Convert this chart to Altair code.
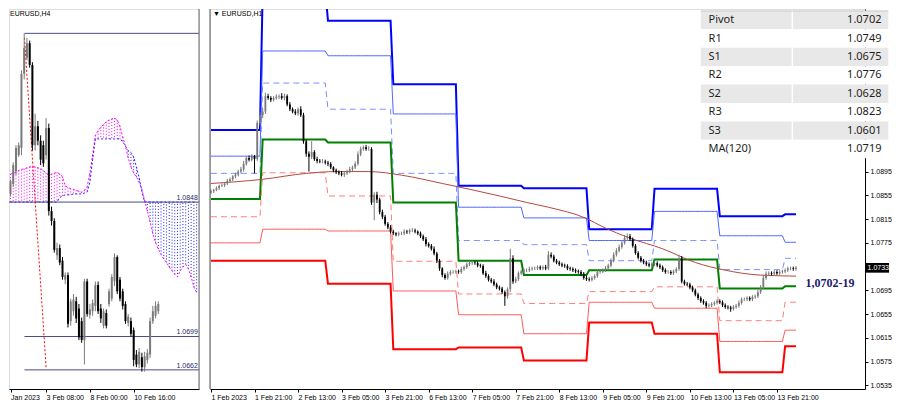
import json
import altair as alt
import pandas as pd

# ================= DATA =================
# ---- right panel: EURUSD H1 (prices in pips, 1 pip = 0.0001) ----
H1_TICK_BARS = [0, 16, 32, 48, 64, 80, 96, 112, 128, 144, 160, 176, 192, 208]
H1_TICK_LABELS = ["1 Feb 2023", "1 Feb 21:00", "2 Feb 13:00", "3 Feb 05:00", "3 Feb 21:00",
                  "6 Feb 13:00", "7 Feb 05:00", "7 Feb 21:00", "8 Feb 13:00", "9 Feb 05:00",
                  "9 Feb 21:00", "10 Feb 13:00", "13 Feb 05:00", "13 Feb 21:00"]
H1_OPEN0 = 10860
H1_CLOSE = [
    10862, 10864, 10867, 10871, 10872, 10875, 10879, 10882, 10887, 10890,
    10895, 10899, 10908, 10918, 10915, 10921, 10916, 10977, 10990, 10996,
    11022, 11019, 11016, 11019, 11021, 11022, 11019, 11022, 11008, 11000,
    10996, 10993, 11000, 10990, 10946, 10925, 10920, 10928, 10916, 10913,
    10912, 10912, 10910, 10908, 10902, 10897, 10894, 10892, 10890, 10892,
    10895, 10899, 10902, 10908, 10924, 10933, 10936, 10933, 10933, 10843,
    10856, 10848, 10827, 10819, 10807, 10801, 10794, 10791, 10789, 10791,
    10791, 10794, 10793, 10796, 10796, 10794, 10791, 10786, 10781, 10773,
    10770, 10765, 10757, 10745, 10732, 10721, 10716, 10723, 10726, 10726,
    10727, 10726, 10731, 10734, 10739, 10741, 10742, 10741, 10737, 10736,
    10724, 10719, 10713, 10710, 10705, 10700, 10698, 10692, 10685, 10697,
    10749, 10710, 10714, 10724, 10727, 10729, 10729, 10731, 10732, 10732,
    10734, 10732, 10734, 10732, 10755, 10752, 10745, 10742, 10739, 10737,
    10736, 10732, 10731, 10729, 10727, 10726, 10723, 10716, 10714, 10713,
    10716, 10719, 10726, 10727, 10729, 10732, 10737, 10745, 10755, 10762,
    10768, 10775, 10783, 10786, 10781, 10770, 10758, 10750, 10745, 10742,
    10739, 10737, 10739, 10741, 10737, 10734, 10729, 10726, 10726, 10724,
    10727, 10731, 10749, 10710, 10706, 10705, 10700, 10695, 10688, 10682,
    10677, 10674, 10669, 10670, 10672, 10674, 10677, 10675, 10670, 10667,
    10666, 10664, 10667, 10669, 10674, 10680, 10680, 10682, 10680, 10684,
    10685, 10692, 10700, 10716, 10723, 10724, 10723, 10726, 10724, 10726,
    10727, 10729, 10732, 10732, 10731, 10733]
H1_UPPER_WICK = [
    3, 2, 3, 2, 3, 2, 4, 3, 2, 3,  3, 4, 5, 3, 4, 3, 2, 4, 5, 6,
    6, 4, 3, 3, 4, 3, 5, 4, 3, 4,  3, 4, 3, 5, 4, 3, 4, 18, 3, 4,
    3, 4, 3, 3, 3, 2, 3, 3, 4, 3,  3, 4, 3, 4, 5, 4, 3, 4, 5, 3,
    4, 5, 3, 4, 3, 3, 4, 3, 2, 3,  3, 4, 3, 3, 4, 3, 2, 3, 3, 4,
    3, 3, 4, 3, 3, 2, 3, 4, 3, 3,  3, 3, 4, 3, 3, 4, 3, 3, 3, 3,
    3, 4, 3, 3, 4, 3, 3, 3, 3, 3,  16, 5, 4, 3, 3, 3, 3, 4, 3, 3,
    3, 3, 3, 4, 6, 4, 3, 3, 3, 3,  3, 3, 3, 3, 3, 3, 3, 3, 4, 3,
    3, 3, 3, 3, 3, 4, 3, 4, 4, 4,  4, 4, 5, 5, 4, 3, 3, 3, 3, 3,
    3, 3, 3, 3, 3, 3, 3, 3, 3, 3,  3, 3, 6, 4, 3, 3, 3, 3, 3, 3,
    3, 3, 3, 3, 3, 3, 3, 3, 3, 3,  3, 3, 3, 3, 4, 3, 3, 3, 3, 3,
    3, 4, 4, 5, 4, 3, 3, 3, 3, 3,  3, 3, 3, 3, 3, 3]
H1_LOWER_WICK = [
    3, 3, 2, 3, 2, 3, 3, 2, 3, 3,  3, 3, 4, 3, 3, 3, 24, 3, 4, 5,
    4, 3, 4, 3, 3, 4, 3, 4, 3, 3,  3, 3, 4, 3, 4, 5, 25, 4, 3, 4,
    3, 3, 3, 4, 3, 3, 3, 3, 3, 4,  3, 3, 3, 3, 3, 3, 3, 3, 3, 4,
    30, 6, 4, 4, 3, 3, 3, 3, 3, 3,  3, 3, 3, 3, 3, 3, 3, 3, 3, 4,
    3, 3, 3, 4, 4, 4, 3, 3, 3, 3,  3, 3, 3, 3, 3, 3, 3, 3, 3, 3,
    3, 3, 3, 3, 3, 3, 3, 3, 16, 4,  5, 4, 3, 3, 3, 3, 3, 3, 3, 3,
    3, 3, 3, 3, 3, 3, 3, 3, 3, 3,  3, 3, 3, 3, 3, 3, 4, 3, 3, 3,
    3, 3, 3, 3, 3, 3, 3, 3, 3, 3,  3, 3, 3, 3, 3, 3, 3, 3, 3, 3,
    3, 3, 3, 3, 3, 3, 3, 3, 3, 3,  3, 3, 3, 3, 3, 3, 3, 3, 3, 3,
    3, 3, 4, 3, 3, 3, 3, 3, 3, 3,  3, 5, 3, 3, 3, 3, 3, 3, 3, 3,
    3, 3, 3, 3, 3, 3, 3, 3, 3, 3,  3, 3, 3, 3, 3, 3]

# daily pivot levels (one value per trading day, pips)
DAY_START_BAR = [0, 19, 43, 67, 91, 115, 139, 163, 187, 211]
LAST_BAR = 215
PIV_R3 = [10965, 11200, 11149, 11042, 10871, 10867, 10798, 10866, 10820, 10823]
PIV_R2 = [10921, 11098, 11090, 10992, 10835, 10817, 10779, 10828, 10787, 10776]
PIV_R1 = [10892, 11044, 11000, 10892, 10779, 10772, 10745, 10779, 10730, 10749]
PIV_PP = [10849, 10949, 10944, 10843, 10745, 10721, 10729, 10747, 10698, 10702]
PIV_S1 = [10819, 10893, 10854, 10744, 10689, 10673, 10693, 10701, 10644, 10675]
PIV_S2 = [10775, 10798, 10795, 10694, 10654, 10622, 10675, 10665, 10609, 10628]
PIV_S3 = [10745, 10745, 10706, 10596, 10599, 10577, 10641, 10622, 10557, 10601]

MA_BAR = [0, 19, 35, 46, 58, 70, 85, 106, 116, 124, 138, 144, 154, 166, 178, 189, 201, 215]
MA_VAL = [10875, 10882, 10892, 10895, 10895, 10889, 10875, 10854, 10843, 10835, 10816,
          10802, 10783, 10765, 10742, 10729, 10721, 10719]

H1_Y_TICKS = [1.0895, 1.0855, 1.0815, 1.0775, 1.0695, 1.0655, 1.0615, 1.0575, 1.0535]
LAST_PRICE = 1.0733
ANNOT_TEXT = "1,0702-19"
ANNOT_BAR = 227.5
ANNOT_PRICE = 1.07077

TABLE_NAMES = ["Pivot", "R1", "S1", "R2", "S2", "R3", "S3", "MA(120)"]
TABLE_VALUES = ["1.0702", "1.0749", "1.0675", "1.0776", "1.0628", "1.0823", "1.0601", "1.0719"]

# ---- left panel: EURUSD H4 ----
H4_TICK_BARS = [3, 16, 32, 48]
H4_TICK_LABELS = ["Jan 2023", "3 Feb 08:00", "8 Feb 00:00", "10 Feb 16:00"]
H4_FIRST_BAR = 2
H4_OPEN = [10851, 10857, 10868, 10882, 10900, 10908, 10990, 11008, 11024, 11000, 10911, 10932,
           10916, 10911, 10900, 10930, 10838, 10827, 10789, 10797, 10783, 10762, 10767, 10716,
           10727, 10738, 10730, 10716, 10695, 10760, 10723, 10727, 10733, 10756, 10730, 10711,
           10725, 10735, 10741, 10760, 10787, 10762, 10749, 10735, 10714, 10716, 10706, 10679,
           10668, 10676, 10665, 10673, 10679, 10716, 10722, 10727]
H4_CLOSE = [10862, 10871, 10889, 10908, 10911, 10990, 11019, 11024, 11000, 10911, 10932, 10916,
            10895, 10891, 10930, 10838, 10827, 10795, 10797, 10781, 10765, 10767, 10713, 10738,
            10740, 10719, 10698, 10695, 10760, 10724, 10729, 10736, 10756, 10727, 10719, 10727,
            10711, 10749, 10765, 10787, 10749, 10741, 10733, 10716, 10721, 10702, 10673, 10668,
            10682, 10665, 10677, 10681, 10716, 10727, 10733, 10735]
H4_HIGH = [10864, 10873, 10892, 10911, 10914, 10994, 11035, 11030, 11027, 11003, 10946, 10938,
           10922, 10916, 10941, 10935, 10843, 10830, 10803, 10801, 10787, 10770, 10770, 10741,
           10746, 10743, 10735, 10720, 10763, 10763, 10735, 10740, 10760, 10760, 10735, 10730,
           10729, 10752, 10768, 10791, 10789, 10765, 10752, 10738, 10724, 10720, 10709, 10684,
           10686, 10681, 10682, 10685, 10720, 10733, 10738, 10738]
H4_LOW = [10849, 10854, 10865, 10878, 10898, 10900, 10984, 11005, 10997, 10905, 10905, 10911,
          10889, 10887, 10895, 10833, 10822, 10792, 10784, 10778, 10762, 10757, 10709, 10711,
          10722, 10714, 10695, 10692, 10668, 10721, 10719, 10722, 10727, 10724, 10714, 10708,
          10708, 10732, 10738, 10755, 10746, 10738, 10729, 10713, 10710, 10699, 10666, 10665,
          10664, 10660, 10660, 10669, 10675, 10713, 10719, 10724]

CLOUD_FIRST_BAR = 2
SPAN_A = [10878, 10879, 10880, 10881, 10883, 10884, 10885, 10886, 10887, 10887,
          10887, 10886, 10885, 10883, 10880, 10878, 10879, 10880, 10881, 10879,
          10876, 10866, 10864, 10863, 10862, 10861, 10860, 10859, 10861, 10865,
          10880, 10900, 10922, 10927, 10931, 10934, 10937, 10939, 10940, 10941,
          10939, 10932, 10920, 10910, 10897, 10887, 10880, 10876, 10870, 10862,
          10850, 10838, 10826, 10813, 10803, 10796, 10790, 10785, 10781, 10776,
          10772, 10768, 10765, 10772, 10776, 10779, 10774, 10765, 10754, 10748,
          10742]
SPAN_B = [10848, 10848, 10848, 10848, 10848, 10848, 10848, 10848, 10848, 10848,
          10848, 10848, 10848, 10848, 10848, 10848, 10848, 10848, 10848, 10853,
          10855, 10856, 10856, 10856, 10857, 10857, 10857, 10857, 10858, 10859,
          10870, 10895, 10918, 10918, 10918, 10918, 10918, 10918, 10918, 10918,
          10918, 10918, 10915, 10910, 10905, 10903, 10898, 10887, 10875, 10860,
          10848, 10848, 10848, 10848, 10848, 10848, 10848, 10848, 10848, 10848,
          10848, 10848, 10848, 10848, 10848, 10848, 10848, 10848, 10848, 10848,
          10848]

H4_LEVELS = [1.1035, 1.0848, 1.0699, 1.0662]
H4_LEVEL_START = [8.1, 2.45, 8.1, 8.1]
H4_LEVEL_LABELS = ["", "1.0848", "1.0699", "1.0662"]
H4_DIAG_BAR = [8.1, 16.0]
H4_DIAG_PRICE = [1.1030, 1.0665]

# ================= LAYOUT / STYLE =================
W_L, W_R, H = 190, 655, 380
XR_DOM = [-0.36, 240.36]
YR_DOM = [1.05290, 1.11687]
XL_DOM = [2.45, 71.87]
YL_DOM = [1.06408, 1.10620]
FONT = "Liberation Sans"
BULL, BEAR = "#7a7a7a", "#000000"


def ref_y(yref):  # reference-pixel row -> price on the right panel scale
    return YR_DOM[1] - yref * (YR_DOM[1] - YR_DOM[0]) / 392.0


def ref_x(xref):  # reference-pixel column -> bar index on the right panel scale
    return (xref - 203) / 2.8


axis_common = dict(grid=False, title=None, labelFont=FONT, labelFontSize=7, labelColor="black",
                   tickColor="black", domainColor="black", tickSize=3, labelOverlap=False,
                   labelFlush=False, labelBound=False)

xR_axis = alt.Axis(values=H1_TICK_BARS, labelAlign="left", labelPadding=1,
                   labelExpr="%s[indexof(%s, datum.value)]" % (json.dumps(H1_TICK_LABELS), json.dumps(H1_TICK_BARS)),
                   **axis_common)
yR_axis = alt.Axis(orient="right", values=H1_Y_TICKS, format=".4f", labelPadding=2, **axis_common)
xR_scale = alt.Scale(domain=XR_DOM, nice=False, zero=False)
yR_scale = alt.Scale(domain=YR_DOM, nice=False, zero=False)

xL_axis = alt.Axis(values=H4_TICK_BARS, labelAlign="left", labelPadding=1,
                   labelExpr="%s[indexof(%s, datum.value)]" % (json.dumps(H4_TICK_LABELS), json.dumps(H4_TICK_BARS)),
                   **axis_common)
xL_scale = alt.Scale(domain=XL_DOM, nice=False, zero=False)
yL_scale = alt.Scale(domain=YL_DOM, nice=False, zero=False)


def XR(f):
    return alt.X(f, type="quantitative", scale=xR_scale, axis=xR_axis)


def YR(f):
    return alt.Y(f, type="quantitative", scale=yR_scale, axis=yR_axis)


def XL(f):
    return alt.X(f, type="quantitative", scale=xL_scale, axis=xL_axis)


def YL(f):
    return alt.Y(f, type="quantitative", scale=yL_scale, axis=None)


# ================= RIGHT PANEL =================
opens = [H1_OPEN0] + H1_CLOSE[:-1]
h1 = pd.DataFrame({"i": list(range(len(H1_CLOSE))), "o": opens, "c": H1_CLOSE,
                   "uw": H1_UPPER_WICK, "lw": H1_LOWER_WICK})
h1["hi"] = (h1[["o", "c"]].max(axis=1) + h1["uw"]) / 1e4
h1["lo"] = (h1[["o", "c"]].min(axis=1) - h1["lw"]) / 1e4
h1["dir"] = ["up" if c >= o else "down" for o, c in zip(h1["o"], h1["c"])]
h1["o"] = h1["o"] / 1e4
h1["c"] = h1["c"] / 1e4
dir_color = alt.Color("dir:N", scale=alt.Scale(domain=["up", "down"], range=[BULL, BEAR]), legend=None)

piv_rows = []
levels = {"R3": PIV_R3, "R2": PIV_R2, "R1": PIV_R1, "PP": PIV_PP, "S1": PIV_S1, "S2": PIV_S2, "S3": PIV_S3}
for name, vals in levels.items():
    for i in range(LAST_BAR + 1):
        d = max(k for k, s in enumerate(DAY_START_BAR) if s <= i)
        piv_rows.append({"lvl": name, "i": i, "p": vals[d] / 1e4})
piv = pd.DataFrame(piv_rows)
piv_style = {
    "R3": dict(color="#0000ff", strokeWidth=2),
    "R2": dict(color="#4f67ff", strokeWidth=1),
    "R1": dict(color="#7b8cff", strokeWidth=1, strokeDash=[6, 4]),
    "PP": dict(color="#008000", strokeWidth=2),
    "S1": dict(color="#ff7b7b", strokeWidth=1, strokeDash=[6, 4]),
    "S2": dict(color="#ff5a5a", strokeWidth=1),
    "S3": dict(color="#ff0000", strokeWidth=2),
}
piv_layers = [
    alt.Chart(piv[piv["lvl"] == k]).mark_line(clip=True, **st).encode(x=XR("i"), y=YR("p"))
    for k, st in piv_style.items()
]

ma = pd.DataFrame({"i": MA_BAR, "p": [v / 1e4 for v in MA_VAL]})
ma_layer = alt.Chart(ma).mark_line(color="#b5483f", strokeWidth=1, interpolate="monotone").encode(
    x=XR("i"), y=YR("p"))

wick_r = alt.Chart(h1).mark_rule(strokeWidth=1).encode(x=XR("i"), y=YR("lo"), y2="hi", color=dir_color)
body_r = alt.Chart(h1).mark_rule(strokeWidth=1.8).encode(x=XR("i"), y=YR("o"), y2="c", color=dir_color)

one = pd.DataFrame({"k": [0]})
left_border_r = alt.Chart(one).mark_rule(color="#555555", strokeWidth=1).encode(
    x=alt.value(0), y=alt.value(0), y2=alt.value(H))

title_r = alt.Chart(pd.DataFrame({"t": ["\u25BC EURUSD,H1"]})).mark_text(
    align="left", baseline="middle", font=FONT, fontSize=7, color="black").encode(
    x=alt.value(3), y=alt.value(5), text="t:N")

annot = alt.Chart(pd.DataFrame({"i": [ANNOT_BAR], "p": [ANNOT_PRICE], "t": [ANNOT_TEXT]})).mark_text(
    align="center", baseline="middle", font="Liberation Serif", fontSize=12, fontWeight="bold",
    color="#1b1b6e").encode(x=XR("i"), y=YR("p"), text="t:N")

box_h = 5 * (YR_DOM[1] - YR_DOM[0]) / 392.0
price_box = alt.Chart(pd.DataFrame({"x0": [240.6], "x1": [249.2], "y0": [LAST_PRICE - box_h],
                                    "y1": [LAST_PRICE + box_h]})).mark_rect(color="black").encode(
    x=XR("x0"), x2="x1", y=YR("y0"), y2="y1")
price_txt = alt.Chart(pd.DataFrame({"x": [241.3], "p": [LAST_PRICE], "t": ["%.4f" % LAST_PRICE]})).mark_text(
    align="left", baseline="middle", font=FONT, fontSize=7, color="white").encode(
    x=XR("x"), y=YR("p"), text="t:N")

tab = pd.DataFrame({"name": TABLE_NAMES, "val": TABLE_VALUES, "r": list(range(len(TABLE_NAMES)))})
tab["y0"] = [ref_y(2 + 19 * r) for r in tab["r"]]
tab["y1"] = [ref_y(21 + 19 * r) for r in tab["r"]]
tab["ym"] = [ref_y(11.5 + 19 * r) for r in tab["r"]]
tab["fill"] = ["#e8e8e8" if r % 2 == 0 else "#ffffff" for r in tab["r"]]
tab["xa0"], tab["xa1"] = ref_x(707), ref_x(800.5)
tab["xb0"], tab["xb1"] = ref_x(802), ref_x(900)
tab["xt"], tab["xv"] = ref_x(715), ref_x(893)
tab_c1 = alt.Chart(tab).mark_rect().encode(x=XR("xa0"), x2="xa1", y=YR("y0"), y2="y1",
                                            color=alt.Color("fill:N", scale=None))
tab_c2 = alt.Chart(tab).mark_rect().encode(x=XR("xb0"), x2="xb1", y=YR("y0"), y2="y1",
                                            color=alt.Color("fill:N", scale=None))
tab_top = alt.Chart(pd.DataFrame({"x0": [ref_x(707)], "x1": [ref_x(900)], "y": [ref_y(2)]})).mark_rule(
    color="#c8c8c8").encode(x=XR("x0"), x2="x1", y=YR("y"))
tab_names = alt.Chart(tab).mark_text(align="left", baseline="middle", font="Noto Sans", fontSize=11,
                                      color="#1e1e1e").encode(x=XR("xt"), y=YR("ym"), text="name:N")
tab_vals = alt.Chart(tab).mark_text(align="right", baseline="middle", font="Noto Sans", fontSize=11,
                                     color="#1e1e1e").encode(x=XR("xv"), y=YR("ym"), text="val:N")

right = alt.layer(
    *piv_layers, ma_layer, wick_r, body_r, left_border_r, annot, price_box, price_txt,
    tab_c1, tab_c2, tab_top, tab_names, tab_vals, title_r
).properties(width=W_R, height=H)

# ================= LEFT PANEL =================
h4 = pd.DataFrame({"j": list(range(H4_FIRST_BAR, H4_FIRST_BAR + len(H4_CLOSE))),
                   "o": [v / 1e4 for v in H4_OPEN], "c": [v / 1e4 for v in H4_CLOSE],
                   "hi": [v / 1e4 for v in H4_HIGH], "lo": [v / 1e4 for v in H4_LOW]})
h4["dir"] = ["up" if c >= o else "down" for o, c in zip(h4["o"], h4["c"])]

cloud = pd.DataFrame({"j": list(range(CLOUD_FIRST_BAR, CLOUD_FIRST_BAR + len(SPAN_A))),
                      "a": [v / 1e4 for v in SPAN_A], "b": [v / 1e4 for v in SPAN_B]})
cloud["col"] = ["#ff00ff" if a > b else "#2020ff" for a, b in zip(cloud["a"], cloud["b"])]
cloud = cloud[(cloud["j"] >= XL_DOM[0]) & (cloud["j"] <= XL_DOM[1])]

hatch = alt.Chart(cloud).mark_rule(strokeWidth=1, strokeDash=[1, 2], clip=True).encode(
    x=XL("j"), y=YL("a"), y2="b", color=alt.Color("col:N", scale=None))
span_a = alt.Chart(cloud).mark_line(color="#ff00ff", strokeWidth=1, strokeDash=[2, 2], clip=True).encode(
    x=XL("j"), y=YL("a"))
span_b = alt.Chart(cloud).mark_line(color="#2020ff", strokeWidth=1, strokeDash=[2, 2], clip=True).encode(
    x=XL("j"), y=YL("b"))

lv = pd.DataFrame({"p": H4_LEVELS, "x0": H4_LEVEL_START, "x1": [XL_DOM[1]] * len(H4_LEVELS),
                   "t": H4_LEVEL_LABELS, "xl": [XL_DOM[1] - 0.4] * len(H4_LEVELS)})
lv_rules = alt.Chart(lv).mark_rule(color="#4a4a8c", strokeWidth=1).encode(x=XL("x0"), x2="x1", y=YL("p"))
lv_text = alt.Chart(lv).mark_text(align="right", baseline="bottom", dy=-1, font=FONT, fontSize=7,
                                   color="#2a2a6a").encode(x=XL("xl"), y=YL("p"), text="t:N")

diag = alt.Chart(pd.DataFrame({"j": H4_DIAG_BAR, "p": H4_DIAG_PRICE})).mark_line(
    color="#ff0000", strokeWidth=1, strokeDash=[2, 2]).encode(x=XL("j"), y=YL("p"))

wick_l = alt.Chart(h4).mark_rule(strokeWidth=1, clip=True).encode(
    x=XL("j"), y=YL("lo"), y2="hi", color=dir_color)
body_l = alt.Chart(h4).mark_rule(strokeWidth=2, clip=True).encode(
    x=XL("j"), y=YL("o"), y2="c", color=dir_color)

right_border_l = alt.Chart(one).mark_rule(color="#666666", strokeWidth=1).encode(
    x=alt.value(W_L), y=alt.value(0), y2=alt.value(H))
title_l = alt.Chart(pd.DataFrame({"t": ["EURUSD,H4"]})).mark_text(
    align="left", baseline="middle", font=FONT, fontSize=7, color="black").encode(
    x=alt.value(1), y=alt.value(5), text="t:N")

left = alt.layer(
    hatch, span_a, span_b, lv_rules, lv_text, diag, wick_l, body_l, right_border_l, title_l
).properties(width=W_L, height=H)

chart = alt.hconcat(left, right, spacing=8).properties(padding=0).configure_view(
    stroke="transparent").configure(background="white")

chart.save("out.html", embed_options={"renderer": "svg", "actions": False})
